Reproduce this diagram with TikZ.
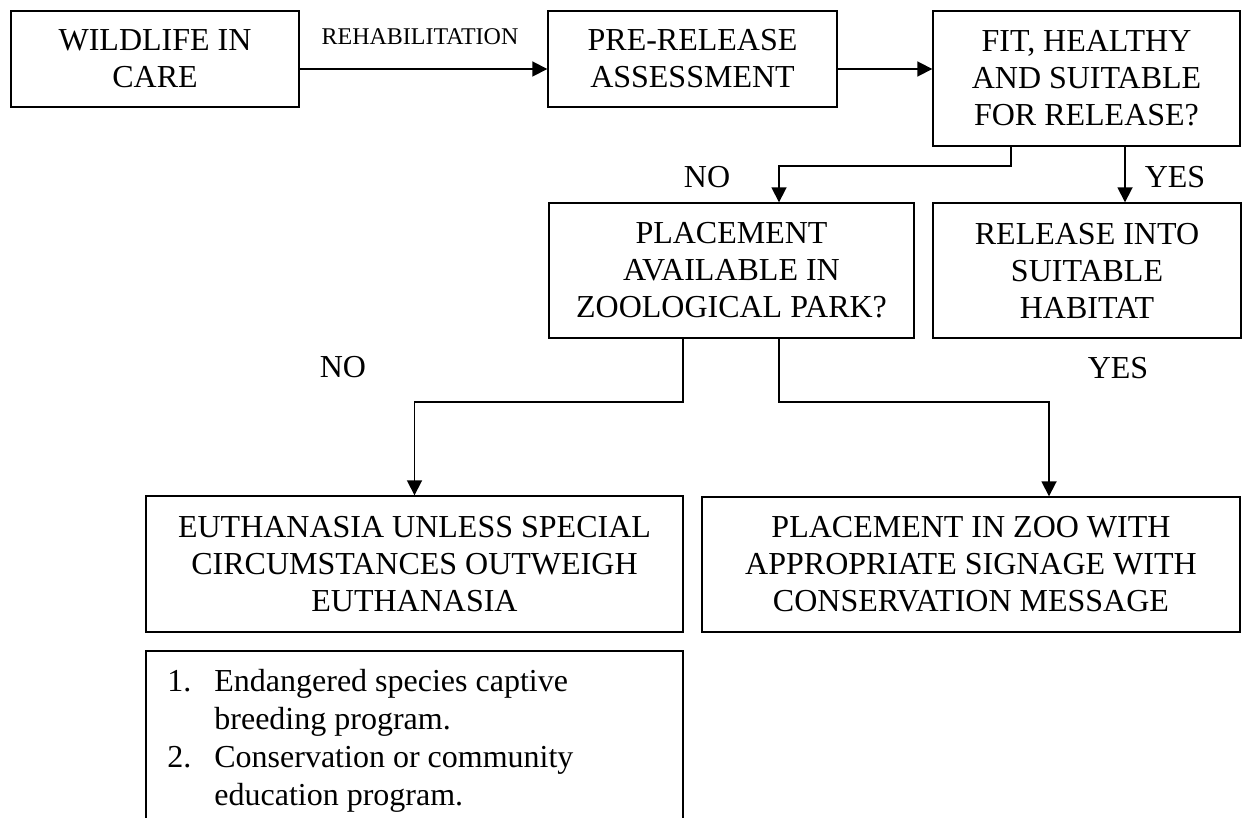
\documentclass[tikz,border=0pt]{standalone}
\usepackage{fontspec}
\setmainfont{Liberation Serif}
\usetikzlibrary{arrows.meta}

\begin{document}
\begin{tikzpicture}[x=0.5pt,y=-0.5pt,
	box/.style={draw,line width=0.7pt,align=center,inner sep=0pt,
		font=\fontsize{16}{18.5}\selectfont},
	lbl/.style={inner sep=0pt,font=\fontsize{16}{18.5}\selectfont},
	arr/.style={line width=0.9pt,-{Triangle[length=7.5pt,width=7.5pt]}},
	wire/.style={line width=0.9pt}]

\useasboundingbox (0,0) rectangle (1243,818);

% first row
\node[box,minimum width=144pt,minimum height=48pt] (care) at (155,59)
	{WILDLIFE IN\\CARE};
\node[box,minimum width=144.5pt,minimum height=48pt] (assess) at (692.5,59)
	{PRE-RELEASE\\ASSESSMENT};
\node[box,minimum width=153.5pt,minimum height=67.5pt] (fit) at (1086.5,78.5)
	{FIT, HEALTHY\\AND SUITABLE\\FOR RELEASE?};

% second row
\node[box,minimum width=182.5pt,minimum height=67.5pt] (avail) at (731.5,270.5)
	{PLACEMENT\\AVAILABLE IN\\ZOOLOGICAL PARK?};
\node[box,minimum width=154pt,minimum height=67.5pt] (release) at (1087,270.5)
	{RELEASE INTO\\SUITABLE\\HABITAT};

% third row
\node[box,minimum width=268.5pt,minimum height=68pt] (euth) at (414.5,564)
	{EUTHANASIA UNLESS SPECIAL\\CIRCUMSTANCES OUTWEIGH\\EUTHANASIA};
\node[box,minimum width=269pt,minimum height=67.5pt] (zoo) at (971,564.5)
	{PLACEMENT IN ZOO WITH\\APPROPRIATE SIGNAGE WITH\\CONSERVATION MESSAGE};

% open box with the special cases
\draw[line width=0.7pt] (146,830) -- (146,651) -- (683,651) -- (683,830);
\node[anchor=north west,inner sep=0pt,font=\fontsize{16}{19}\selectfont] (cases) at (167,664)
	{\begin{tabular}{@{}p{23.5pt}@{}l@{}}
	1. & Endangered species captive\\
	   & breeding program.\\
	2. & Conservation or community\\
	   & education program.
	\end{tabular}};

% labels
\node[inner sep=0pt,font=\fontsize{12}{14}\selectfont] (rehab) at (420,37) {REHABILITATION};
\node[lbl] (no1) at (707,177) {NO};
\node[lbl] (yes1) at (1175,177) {YES};
\node[lbl] (no2) at (343,367) {NO};
\node[lbl] (yes2) at (1118,368) {YES};

% connectors
\coordinate (r1) at ([yshift=-5pt]care.east);
\draw[arr] (r1) -- (r1 -| assess.west);
\coordinate (r2) at ([yshift=-5pt]assess.east);
\draw[arr] (r2) -- (r2 -| fit.west);

\draw[arr] ([xshift=-37.75pt]fit.south) -- ++(0,19) -| ([xshift=23.75pt]avail.north);
\draw[arr] ([xshift=19.25pt]fit.south) -- ([xshift=19pt]release.north);

\draw[arr] ([xshift=-24.25pt]avail.south) -- ++(0,63) -| (euth.north);
\draw[arr] ([xshift=23.75pt]avail.south) -- ++(0,63) -| ([xshift=39pt]zoo.north);

\end{tikzpicture}
\end{document}
